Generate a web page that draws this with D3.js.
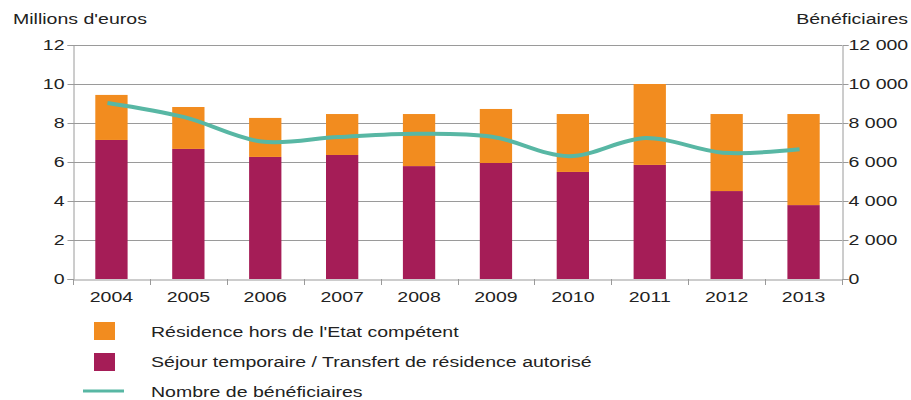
<!DOCTYPE html>
<html><head><meta charset="utf-8">
<script src="https://cdn.jsdelivr.net/npm/d3@7"></script>
<style>body{margin:0;background:#fff}svg{display:block}text{font-family:"Liberation Sans",Arial,sans-serif;fill:#222}</style>
</head><body><svg id="c" width="911" height="400"></svg>
<script>
const years = ["2004","2005","2006","2007","2008","2009","2010","2011","2012","2013"];
const sejour = [7.13,6.67,6.26,6.36,5.79,5.95,5.49,5.85,4.51,3.79];
const residence = [2.31,2.15,2.00,2.10,2.67,2.77,2.97,4.15,3.95,4.67];
const beneficiaires = [9030,8300,7050,7280,7450,7300,6300,7230,6480,6650];
const leftTicks = [0,2,4,6,8,10,12];
const rightTicks = [0,2000,4000,6000,8000,10000,12000];
const legendLabels = ["Résidence hors de l'Etat compétent","Séjour temporaire / Transfert de résidence autorisé","Nombre de bénéficiaires"];
const colors = {residence:"#F28C1F", sejour:"#A51D57", line:"#58B7A4", grid:"#9a9a9a"};

const FS = "15.5px", SX = 1.26;
const svg = d3.select("#c");
const L=73, R=842, T=45, B=279;
const x = d3.scaleBand().domain(years).range([L,R]).paddingInner(0.58).paddingOuter(0.29);
const xb = d3.scaleBand().domain(years).range([L,R]);
const y = d3.scaleLinear().domain([0,12]).range([B,T]);
const y2 = d3.scaleLinear().domain([0,12000]).range([B,T]);

function stretch(sel){
  sel.each(function(){
    const t = d3.select(this);
    const tx = +t.attr("x")||0, ty = +t.attr("y")||0;
    t.attr("x",0).attr("y",0).attr("transform",`translate(${tx},${ty}) scale(${SX},1)`)
     .style("font-size",FS);
  });
}

// gridlines
svg.append("g").selectAll("line").data(leftTicks.filter(d=>d>0)).join("line")
  .attr("x1",L).attr("x2",R).attr("y1",d=>y(d)+0.5).attr("y2",d=>y(d)+0.5)
  .attr("stroke",colors.grid).attr("stroke-width",1);

// bars
const data = years.map((yr,i)=>({yr, sejour:sejour[i], residence:residence[i]}));
const stack = d3.stack().keys(["sejour","residence"])(data);
svg.append("g").selectAll("g").data(stack).join("g").attr("fill",d=>colors[d.key])
  .selectAll("rect").data(d=>d).join("rect")
  .attr("x",d=>x(d.data.yr)).attr("width",x.bandwidth())
  .attr("y",d=>y(d[1])).attr("height",d=>y(d[0])-y(d[1]));

// axes
const fmt = d=> d===0 ? "0" : d3.format(",")(d).replace(/,/g," ");
const gl = svg.append("g").attr("transform",`translate(${L+0.5},0)`)
  .call(d3.axisLeft(y).tickValues(leftTicks).tickSize(6).tickPadding(3));
const gr = svg.append("g").attr("transform",`translate(${R+0.5},0)`)
  .call(d3.axisRight(y2).tickValues(rightTicks).tickSize(6).tickPadding(0).tickFormat(fmt));
const gb = svg.append("g").attr("transform",`translate(0,${B+0.5})`)
  .call(d3.axisBottom(xb).tickSize(0).tickPadding(11));
[gl,gr,gb].forEach(g=>{
  g.select(".domain").attr("stroke",colors.grid);
  g.selectAll(".tick line").attr("stroke",colors.grid);
  g.selectAll("text").attr("fill","#222").attr("font-size",null);
});
gb.selectAll("text").attr("dy","0.75em");
gr.selectAll(".tick text").attr("x",6);
stretch(gl.selectAll(".tick text"));
stretch(gr.selectAll(".tick text"));
stretch(gb.selectAll(".tick text"));
// bottom ticks at band boundaries
svg.append("g").selectAll("line").data(years.map(d=>xb(d)).concat([R])).join("line")
  .attr("x1",d=>Math.round(d)+0.5).attr("x2",d=>Math.round(d)+0.5).attr("y1",B).attr("y2",B+6)
  .attr("stroke",colors.grid);

// line
const line = d3.line().x((d,i)=>xb(years[i])+xb.bandwidth()/2-4).y(d=>y2(d)).curve(d3.curveCatmullRom.alpha(0.5));
svg.append("path").datum(beneficiaires).attr("d",line).attr("fill","none")
  .attr("stroke",colors.line).attr("stroke-width",4);

// axis titles
stretch(svg.append("text").attr("x",13).attr("y",24).text("Millions d'euros"));
stretch(svg.append("text").attr("x",908).attr("y",24).attr("text-anchor","end").text("Bénéficiaires"));

// legend
const lg = svg.append("g");
lg.append("rect").attr("x",94).attr("y",322).attr("width",21).attr("height",18).attr("fill",colors.residence);
lg.append("rect").attr("x",94).attr("y",353).attr("width",21).attr("height",18).attr("fill",colors.sejour);
lg.append("line").attr("x1",83).attr("x2",124).attr("y1",391).attr("y2",391).attr("stroke",colors.line).attr("stroke-width",3);
stretch(lg.selectAll("text").data(legendLabels).join("text")
  .attr("x",151).attr("y",(d,i)=>337+i*30).text(d=>d));
</script></body></html>
